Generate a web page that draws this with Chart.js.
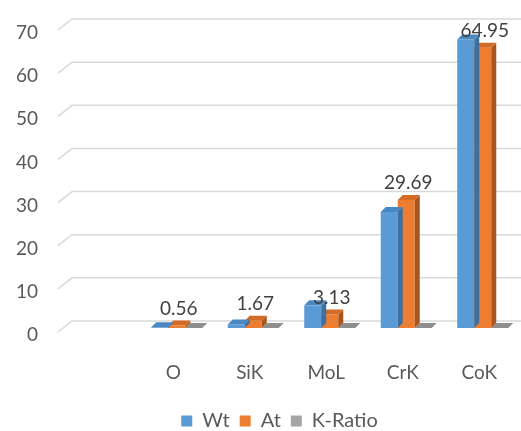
<!DOCTYPE html>
<html>
<head>
<meta charset="utf-8">
<script src="https://cdn.jsdelivr.net/npm/chart.js@4/dist/chart.umd.min.js"></script>
<style>
html,body{margin:0;padding:0;background:#fff;}
canvas{display:block;}
</style>
</head>
<body>
<canvas id="c" width="521" height="431"></canvas>
<script>
// ---- data ----
const categories = ['', 'O', 'SiK', 'MoL', 'CrK', 'CoK'];
const wtValues = [null, 0.16, 0.83, 5.25, 26.9, 66.86];
const atValues = [null, 0.56, 1.67, 3.13, 29.69, 64.95];
const kRatioValues = [null, 0, 0, 0, 0, 0];
const yTicks = [0, 10, 20, 30, 40, 50, 60, 70];
const seriesNames = ['Wt', 'At', 'K-Ratio'];

// ---- styling ----
const frontColors = ['#5B9BD5', '#ED7D31', '#A5A5A5'];
const topColors = ['#4A88C2', '#D46B25', '#8E8E8E'];
const sideColors = ['#3E6F9E', '#A8561D', '#7A7A7A'];
const DEPTH = 5;

Chart.defaults.font.family = 'Lato, "Open Sans", sans-serif';
Chart.defaults.color = '#595959';

const wallGrid = {
  id: 'wallGrid',
  beforeDatasetsDraw(chart) {
    const ctx = chart.ctx, a = chart.chartArea, ys = chart.scales.y;
    ctx.save();
    ctx.strokeStyle = '#D9D9D9';
    ctx.lineWidth = 1.5;
    yTicks.forEach(v => {
      const py = ys.getPixelForValue(v);
      ctx.beginPath();
      ctx.moveTo(a.left - 4, py + 4);
      ctx.lineTo(a.left + 10, py - 7);
      ctx.lineTo(chart.width, py - 7);
      ctx.stroke();
    });
    ctx.restore();
  }
};

const legendShift = {
  id: 'legendShift',
  afterLayout(chart) {
    const lg = chart.legend;
    if (!lg) return;
    lg.left += 11; lg.right += 11;
    lg.top += 18; lg.bottom += 18;
  }
};

const bar3d = {
  id: 'bar3d',
  afterDatasetDraw(chart, args) {
    const ctx = chart.ctx, di = args.index;
    const data = chart.data.datasets[di].data;
    ctx.save();
    args.meta.data.forEach((el, i) => {
      const v = data[i];
      if (v === null || v === undefined) return;
      const p = el.getProps(['x', 'y', 'base', 'width'], true);
      const l = p.x - p.width / 2, r = p.x + p.width / 2;
      ctx.fillStyle = sideColors[di];
      ctx.beginPath();
      ctx.moveTo(r, p.y); ctx.lineTo(r + DEPTH, p.y - DEPTH);
      ctx.lineTo(r + DEPTH, p.base - DEPTH); ctx.lineTo(r, p.base);
      ctx.closePath(); ctx.fill();
      ctx.fillStyle = topColors[di];
      ctx.beginPath();
      ctx.moveTo(l, p.y); ctx.lineTo(l + DEPTH, p.y - DEPTH);
      ctx.lineTo(r + DEPTH, p.y - DEPTH); ctx.lineTo(r, p.y);
      ctx.closePath(); ctx.fill();
    });
    ctx.restore();
  }
};

const valueLabels = {
  id: 'valueLabels',
  afterDatasetsDraw(chart) {
    const ctx = chart.ctx;
    const meta = chart.getDatasetMeta(1);
    ctx.save();
    ctx.font = '19px Lato, "Open Sans", sans-serif';
    ctx.fillStyle = '#404040';
    ctx.textAlign = 'center';
    ctx.textBaseline = 'middle';
    meta.data.forEach((el, i) => {
      const v = atValues[i];
      if (v === null || v === undefined) return;
      ctx.fillText(String(v), el.x + 2, el.y - 17);
    });
    ctx.restore();
  }
};

new Chart(document.getElementById('c'), {
  type: 'bar',
  data: {
    labels: categories,
    datasets: [
      { label: seriesNames[0], data: wtValues, backgroundColor: frontColors[0] },
      { label: seriesNames[1], data: atValues, backgroundColor: frontColors[1] },
      { label: seriesNames[2], data: kRatioValues, backgroundColor: frontColors[2] }
    ]
  },
  options: {
    responsive: false,
    animation: false,
    devicePixelRatio: 1,
    datasets: { bar: { categoryPercentage: 0.667, barPercentage: 1.0, borderWidth: 0 } },
    layout: { padding: { left: 16, right: 0, top: 26, bottom: 8 } },
    plugins: {
      legend: {
        position: 'bottom',
        labels: {
          boxWidth: 11, boxHeight: 11, padding: 10,
          font: { size: 20 }, color: '#595959'
        }
      },
      tooltip: { enabled: false }
    },
    scales: {
      x: {
        afterFit(s) { s.height = 55; s.paddingLeft = 0; s.paddingRight = 0; },
        grid: { display: false, drawTicks: false },
        border: { display: false },
        ticks: { padding: 33, labelOffset: -3.5, maxRotation: 0, font: { size: 19 }, color: '#595959' }
      },
      y: {
        min: 0, max: 70,
        afterFit(s) { s.width = 46; s.paddingTop = 0; s.paddingBottom = 0; },
        grid: { display: false, drawTicks: false },
        border: { display: false },
        ticks: { stepSize: 10, padding: 24, labelOffset: 7, font: { size: 19 }, color: '#595959' }
      }
    }
  },
  plugins: [wallGrid, legendShift, bar3d, valueLabels]
});
</script>
</body>
</html>
